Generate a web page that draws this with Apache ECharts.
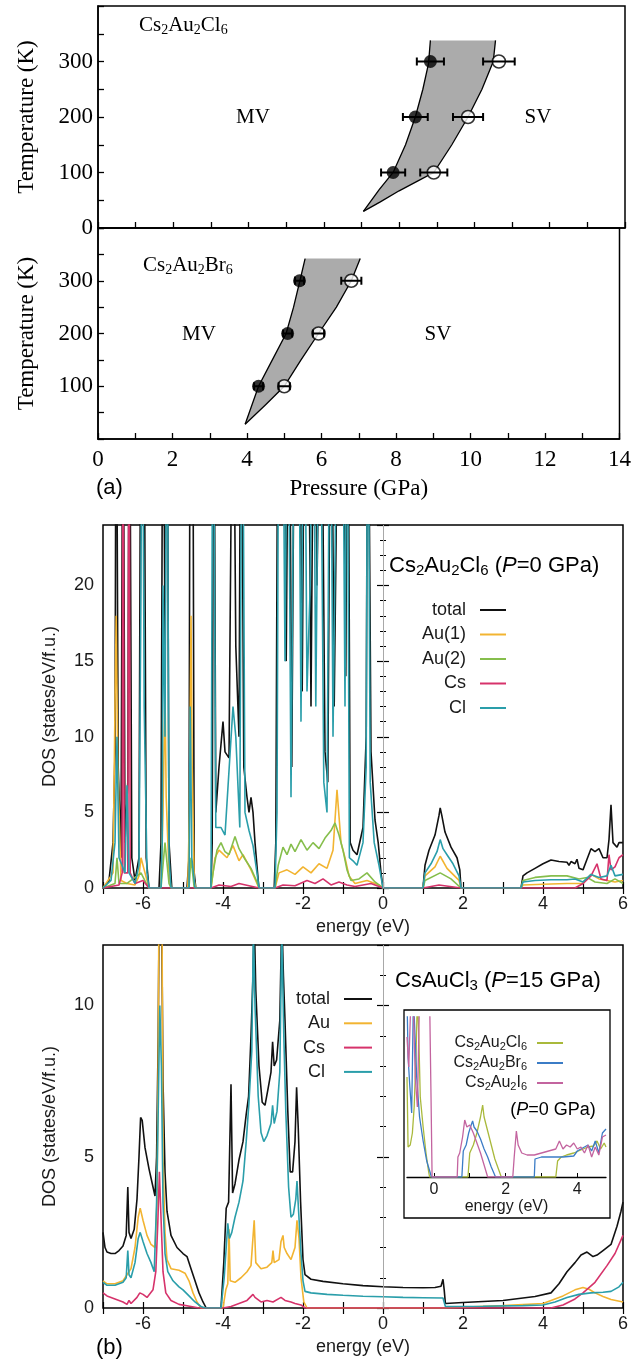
<!DOCTYPE html>
<html>
<head>
<meta charset="utf-8">
<title>Cs2Au2X6 phase diagram and DOS</title>
<script src="https://cdn.jsdelivr.net/npm/echarts@6/dist/echarts.min.js"></script>
<style>
  html, body { margin: 0; padding: 0; background: #fff; }
  #main { width: 634px; height: 1363px; }
</style>
</head>
<body>
<div id="main"></div>
<script>
// ---- (a) phase diagram: [pressure GPa, temperature K, error GPa] ----
var clFilled = [[7.84, 100, 0.32], [8.43, 200, 0.33], [8.83, 300, 0.36]];
var clOpen = [[8.92, 100, 0.36], [9.83, 200, 0.40], [10.65, 300, 0.42]];
var clLeft = [[7.05, 30], [7.47, 69], [7.84, 100], [8.17, 150], [8.43, 200], [8.63, 250], [8.78, 296], [8.83, 338]];
var clRight = [[7.05, 30], [7.5, 47], [8.0, 67], [8.5, 85], [8.92, 100], [9.4, 150], [9.83, 200], [10.2, 250], [10.5, 300], [10.56, 338]];

var brFilled = [[4.31, 100, 0.12], [5.09, 200, 0.12], [5.41, 300, 0.12]];
var brOpen = [[5.0, 100, 0.15], [5.92, 200, 0.15], [6.8, 300, 0.27]];
var brLeft = [[3.95, 28], [4.31, 100], [4.68, 150], [5.05, 200], [5.25, 250], [5.42, 300], [5.56, 342]];
var brRight = [[3.95, 28], [4.5, 65], [5.0, 100], [5.45, 150], [5.92, 200], [6.4, 250], [6.8, 300], [7.04, 342]];

// ---- (a) lower: DOS of Cs2Au2Cl6 at P=0, [energy eV, states/eV/f.u.] ----
var cl6Total = [[-7,0],[-6.85,0.5],[-6.75,3],[-6.7,9],[-6.67,40],[-6.62,8],[-6.55,2],[-6.5,40],[-6.45,3],[-6.38,7],[-6.34,40],[-6.28,2],[-6.2,0.5],[-6.1,2],[-6.05,40],[-5.98,40],[-5.92,2],[-5.85,0],[-5.6,0],[-5.55,3],[-5.5,40],[-5.45,16],[-5.4,40],[-5.35,3],[-5.28,0],[-4.9,0],[-4.85,2],[-4.82,40],[-4.76,40],[-4.72,1],[-4.68,0],[-4.3,0],[-4.27,3],[-4.23,40],[-4.18,5],[-4.1,8],[-4.0,11],[-3.95,9],[-3.85,8.6],[-3.75,40],[-3.68,16],[-3.6,10],[-3.55,40],[-3.48,8],[-3.4,6],[-3.35,5],[-3.3,6],[-3.25,5],[-3.2,3],[-3.12,0.5],[-3.1,0],[-2.72,0],[-2.68,3],[-2.62,40],[-2.55,40],[-2.48,40],[-2.42,15],[-2.35,40],[-2.28,8],[-2.2,40],[-2.1,40],[-2.02,13],[-1.95,40],[-1.88,40],[-1.8,12],[-1.72,40],[-1.65,20],[-1.55,40],[-1.45,9],[-1.38,7],[-1.3,40],[-1.22,12],[-1.1,40],[-1.0,40],[-0.93,14],[-0.88,40],[-0.82,3],[-0.75,2.5],[-0.65,2.2],[-0.5,4],[-0.42,10],[-0.38,40],[-0.3,9],[-0.2,4.5],[-0.12,3],[-0.05,1],[0,0],[1.0,0],[1.05,1.5],[1.15,2.5],[1.3,3.5],[1.4,4.8],[1.43,5.3],[1.47,4.8],[1.55,3.7],[1.7,2.7],[1.85,2.0],[1.92,1.2],[1.95,0],[3.45,0],[3.5,0.8],[3.6,1.0],[3.8,1.3],[4.0,1.6],[4.2,1.85],[4.4,1.75],[4.6,1.7],[4.65,1.5],[4.7,1.75],[4.8,1.6],[4.85,1.9],[4.9,1.3],[5.0,1.2],[5.1,1.9],[5.2,2.6],[5.3,2.4],[5.4,2.6],[5.5,2.0],[5.6,2.0],[5.65,3.2],[5.7,5.5],[5.75,3.0],[5.85,2.7],[5.9,3.0],[6,3.0]];
var cl6Au1 = [[-7,0],[-6.75,1],[-6.7,12],[-6.67,18],[-6.63,8],[-6.55,0.5],[-6.4,0.3],[-6.2,0.2],[-6.1,0.8],[-6.05,2],[-5.95,1],[-5.85,0],[-5.55,0],[-5.5,5],[-5.45,13],[-5.42,6],[-5.35,1],[-5.3,0],[-4.88,0],[-4.84,5],[-4.8,18],[-4.77,8],[-4.72,0.5],[-4.68,0],[-4.3,0],[-4.25,1],[-4.2,2],[-4.1,2.5],[-3.9,2],[-3.75,2.8],[-3.6,1.8],[-3.5,2.2],[-3.3,1.2],[-3.15,0.3],[-3.1,0],[-2.7,0],[-2.6,1],[-2.4,1.2],[-2.2,0.9],[-2.0,1.4],[-1.8,1.0],[-1.6,1.6],[-1.4,1.3],[-1.25,2.5],[-1.15,6.5],[-1.05,3],[-0.95,2],[-0.85,0.8],[-0.7,0.3],[-0.4,0.5],[-0.1,0.2],[0,0],[1.0,0],[1.05,0.8],[1.3,1.4],[1.43,2.1],[1.6,1.3],[1.9,0.5],[1.95,0],[3.45,0],[3.5,0.2],[4.0,0.25],[4.6,0.3],[5.0,0.3],[5.2,0.9],[5.4,0.6],[5.6,0.5],[5.8,0.4],[6,0.5]];
var cl6Au2 = [[-7,0],[-6.7,0.3],[-6.65,2],[-6.6,0.3],[-6.4,0.3],[-6.05,1],[-5.9,0.2],[-5.85,0],[-5.55,0],[-5.45,3],[-5.35,0.3],[-5.3,0],[-4.85,0],[-4.8,2],[-4.72,0],[-4.3,0],[-4.25,1],[-4.15,2.5],[-4.05,3],[-3.95,2.4],[-3.85,2.2],[-3.7,3.4],[-3.6,2.6],[-3.45,1.9],[-3.3,1.3],[-3.15,0.4],[-3.1,0],[-2.7,0],[-2.62,1.5],[-2.5,2.7],[-2.4,2.2],[-2.3,2.9],[-2.2,2.4],[-2.05,3.2],[-1.9,2.5],[-1.75,3.0],[-1.6,2.6],[-1.45,3.3],[-1.3,3.8],[-1.2,4.3],[-1.1,3.5],[-1.0,2.5],[-0.9,1.2],[-0.8,0.5],[-0.6,0.6],[-0.4,1.0],[-0.2,0.4],[0,0],[1.0,0],[1.05,0.5],[1.43,1.0],[1.7,0.6],[1.95,0],[3.45,0],[3.5,0.5],[3.8,0.7],[4.2,0.8],[4.6,0.8],[4.9,0.6],[5.1,0.7],[5.3,0.4],[5.6,0.3],[5.8,0.6],[6,0.3]];
var cl6Cs = [[-7,0],[-6.6,0.2],[-6.52,1],[-6.5,40],[-6.47,1],[-6.38,1],[-6.35,40],[-6.32,1],[-6.2,0.3],[-6.0,0.5],[-5.85,0],[-4.3,0],[-4.1,0.2],[-3.8,0.1],[-3.6,0.3],[-3.1,0],[-2.7,0],[-2.5,0.2],[-2.2,0.15],[-1.9,0.5],[-1.7,0.3],[-1.5,0.6],[-1.3,0.2],[-1.1,0.4],[-0.9,0.2],[-0.7,0.1],[-0.3,0.3],[0,0],[1.0,0],[1.4,0.2],[1.95,0],[3.45,0],[4.8,0],[5.0,0.3],[5.2,0.8],[5.35,1.6],[5.45,0.6],[5.6,0.5],[5.65,2.2],[5.7,1.2],[5.8,1.4],[5.9,2.0],[6,2.2]];
var cl6Cl = [[-7,0],[-6.8,0.5],[-6.7,3],[-6.65,10],[-6.6,2],[-6.45,1],[-6.4,6.8],[-6.35,1],[-6.2,0.3],[-6.1,1.5],[-6.05,20],[-6.02,40],[-5.97,12],[-5.9,1],[-5.85,0],[-5.55,0],[-5.52,3],[-5.5,20],[-5.45,10],[-5.4,40],[-5.35,2],[-5.3,0],[-4.85,0],[-4.82,12],[-4.78,2],[-4.7,0],[-4.3,0],[-4.25,40],[-4.18,4],[-4.05,4],[-3.95,3.5],[-3.75,12],[-3.68,10],[-3.58,4],[-3.52,40],[-3.45,5],[-3.35,3.8],[-3.25,2.8],[-3.15,1],[-3.1,0],[-2.7,0],[-2.65,5],[-2.6,40],[-2.52,40],[-2.45,15],[-2.38,40],[-2.3,6],[-2.2,40],[-2.12,40],[-2.05,11],[-1.97,40],[-1.9,13],[-1.82,20],[-1.75,40],[-1.68,12],[-1.58,40],[-1.48,7],[-1.4,5],[-1.32,40],[-1.25,10],[-1.12,40],[-1.02,40],[-0.95,12],[-0.9,40],[-0.84,2],[-0.75,1.8],[-0.65,1.5],[-0.5,3],[-0.42,8],[-0.38,40],[-0.32,7],[-0.22,3],[-0.1,1.5],[0,0],[1.0,0],[1.05,1],[1.2,1.6],[1.35,2.4],[1.43,3.2],[1.5,2.6],[1.6,2.2],[1.75,1.6],[1.9,0.8],[1.95,0],[3.45,0],[3.5,0.4],[3.8,0.5],[4.2,0.55],[4.6,0.55],[4.8,0.6],[5.0,0.4],[5.2,0.9],[5.4,0.7],[5.6,0.8],[5.7,1.5],[5.8,0.8],[6,0.9]];

// ---- (b) DOS of CsAuCl3 at P=15 GPa ----
var p15Total = [[-7,2.5],[-6.95,2.0],[-6.9,1.85],[-6.8,1.8],[-6.7,1.8],[-6.6,1.9],[-6.5,2.05],[-6.42,2.4],[-6.38,4.0],[-6.35,2.5],[-6.3,2.3],[-6.22,2.6],[-6.15,3.6],[-6.1,5.0],[-6.06,6.3],[-6.02,6.2],[-5.95,5.3],[-5.85,4.6],[-5.75,4.0],[-5.7,3.7],[-5.66,5.0],[-5.62,9.0],[-5.58,16],[-5.54,14],[-5.5,7.5],[-5.45,4.5],[-5.4,3.2],[-5.3,2.4],[-5.15,2.0],[-5.0,1.8],[-4.9,1.7],[-4.8,1.3],[-4.7,0.9],[-4.6,0.5],[-4.5,0.2],[-4.42,0],[-4.05,0],[-3.98,1.5],[-3.92,3.3],[-3.86,3.5],[-3.8,7.4],[-3.76,3.8],[-3.7,4.1],[-3.6,4.9],[-3.5,5.5],[-3.42,6.4],[-3.36,7.0],[-3.3,9.0],[-3.25,11],[-3.22,13],[-3.18,10.5],[-3.1,8.0],[-3.02,6.8],[-2.95,6.7],[-2.88,7.2],[-2.8,7.8],[-2.76,8.8],[-2.72,8.0],[-2.66,8.2],[-2.58,9.5],[-2.53,13],[-2.49,11],[-2.45,9.5],[-2.38,6.5],[-2.32,4.5],[-2.26,4.5],[-2.2,5.5],[-2.16,7.3],[-2.12,6.0],[-2.06,3.5],[-2.0,1.6],[-1.95,1.1],[-1.8,0.95],[-1.5,0.88],[-1.0,0.8],[-0.5,0.74],[0,0.7],[0.5,0.68],[1.0,0.67],[1.3,0.68],[1.45,0.72],[1.5,0.95],[1.53,0.6],[1.56,0.15],[2.0,0.18],[3.0,0.25],[3.8,0.38],[4.2,0.5],[4.4,0.8],[4.6,1.2],[4.8,1.5],[4.95,1.75],[5.1,1.85],[5.25,1.7],[5.35,1.75],[5.5,1.9],[5.7,2.1],[5.85,2.7],[5.95,3.2],[6,3.5]];
var p15Au = [[-7,0.9],[-6.9,0.8],[-6.7,0.8],[-6.5,0.9],[-6.4,1.1],[-6.3,1.3],[-6.2,2.0],[-6.12,3.0],[-6.07,3.3],[-6.0,2.9],[-5.9,2.4],[-5.8,2.1],[-5.7,2.0],[-5.65,3.5],[-5.62,8],[-5.58,20],[-5.54,18],[-5.5,5],[-5.45,2.5],[-5.4,1.6],[-5.3,1.3],[-5.1,1.25],[-4.95,1.15],[-4.85,0.9],[-4.75,0.5],[-4.65,0.2],[-4.55,0],[-4.0,0],[-3.93,0.6],[-3.88,0.8],[-3.85,2.6],[-3.82,0.9],[-3.7,0.85],[-3.55,1.0],[-3.4,1.2],[-3.3,1.4],[-3.22,2.9],[-3.18,1.5],[-3.05,1.3],[-2.9,1.35],[-2.78,1.5],[-2.75,1.9],[-2.72,1.5],[-2.6,1.6],[-2.55,2.2],[-2.5,2.4],[-2.47,2.0],[-2.4,1.8],[-2.3,1.6],[-2.2,2.0],[-2.15,2.9],[-2.1,2.3],[-2.05,1.0],[-1.98,0.2],[-1.9,0],[1.5,0],[1.55,0.05],[3.0,0.08],[4.0,0.15],[4.5,0.4],[4.8,0.6],[5.0,0.68],[5.15,0.62],[5.3,0.5],[5.5,0.38],[5.7,0.28],[6,0.2]];
var p15Cs = [[-7,0.5],[-6.9,0.4],[-6.7,0.3],[-6.5,0.2],[-6.4,0.12],[-6.35,0.25],[-6.3,0.15],[-6.15,0.35],[-6.08,0.5],[-6.0,0.45],[-5.9,0.35],[-5.75,0.6],[-5.68,1.2],[-5.63,2.8],[-5.59,4.5],[-5.55,3.0],[-5.5,1.2],[-5.43,0.5],[-5.3,0.25],[-5.1,0.12],[-4.8,0.05],[-4.6,0],[-4.0,0],[-3.8,0.05],[-3.6,0.15],[-3.4,0.25],[-3.25,0.45],[-3.2,0.35],[-3.05,0.2],[-2.9,0.25],[-2.75,0.2],[-2.55,0.35],[-2.45,0.25],[-2.3,0.2],[-2.2,0.15],[-2.05,0.1],[-1.95,0],[4.2,0],[4.5,0.1],[4.8,0.3],[5.0,0.5],[5.3,0.85],[5.6,1.4],[5.8,1.8],[6,2.4]];
var p15Cl = [[-7,0.85],[-6.9,0.75],[-6.7,0.75],[-6.5,0.85],[-6.42,1.0],[-6.38,1.9],[-6.35,1.1],[-6.3,1.0],[-6.2,1.5],[-6.12,2.3],[-6.07,2.5],[-6.0,2.2],[-5.9,1.8],[-5.8,1.5],[-5.72,1.2],[-5.66,3.5],[-5.62,6.5],[-5.58,10.0],[-5.54,8.0],[-5.5,3.5],[-5.45,1.8],[-5.38,1.2],[-5.25,0.9],[-5.1,0.7],[-5.0,0.6],[-4.85,0.4],[-4.7,0.2],[-4.55,0.05],[-4.45,0],[-4.05,0],[-3.97,1.0],[-3.92,2.0],[-3.88,2.8],[-3.84,2.3],[-3.78,2.5],[-3.7,3.0],[-3.6,3.5],[-3.5,4.2],[-3.42,5.5],[-3.35,6.8],[-3.28,8.5],[-3.24,12.5],[-3.2,10],[-3.12,7.0],[-3.05,5.8],[-2.98,5.5],[-2.9,5.7],[-2.8,6.1],[-2.76,6.7],[-2.72,6.1],[-2.65,6.5],[-2.58,7.8],[-2.53,12.5],[-2.48,9],[-2.43,6.5],[-2.36,4.0],[-2.3,3.0],[-2.24,3.1],[-2.18,3.6],[-2.15,4.2],[-2.11,3.2],[-2.05,1.8],[-2.0,0.9],[-1.95,0.55],[-1.8,0.5],[-1.4,0.45],[-1.0,0.42],[-0.5,0.39],[0,0.37],[0.5,0.35],[1.0,0.34],[1.5,0.33],[1.56,0.05],[2.5,0.06],[3.5,0.08],[4.0,0.1],[4.3,0.2],[4.6,0.35],[4.9,0.45],[5.2,0.5],[5.5,0.52],[5.7,0.55],[5.9,0.7],[6,0.85]];

// ---- (b) inset: P=0 DOS near the gap ----
var insCl6 = [[-0.75,5.0],[-0.72,1.5],[-0.66,1.6],[-0.6,2.2],[-0.55,3.5],[-0.5,6.0],[-0.46,9],[-0.42,7],[-0.38,4],[-0.3,2.5],[-0.22,1.2],[-0.15,0.3],[-0.12,0],[0.95,0],[1.0,1.2],[1.1,1.6],[1.2,2.2],[1.3,3.0],[1.36,3.6],[1.4,3.0],[1.5,2.3],[1.6,1.6],[1.7,0.9],[1.8,0.4],[1.88,0],[3.4,0],[3.45,0.8],[3.55,1.0],[3.7,1.1],[3.9,1.2],[4.1,1.35],[4.3,1.5],[4.45,1.55],[4.55,1.8],[4.65,1.4],[4.75,1.7],[4.8,1.5]];
var insBr6 = [[-0.75,9],[-0.72,6],[-0.67,4.5],[-0.62,3.2],[-0.57,9],[-0.53,9],[-0.48,5],[-0.4,3],[-0.3,1.8],[-0.2,0.8],[-0.1,0.2],[-0.07,0],[0.78,0],[0.82,1.3],[0.9,1.6],[0.97,2.2],[1.04,2.6],[1.08,2.8],[1.12,2.5],[1.2,2.3],[1.3,1.9],[1.4,1.4],[1.5,1.0],[1.6,0.5],[1.72,0],[2.8,0],[2.82,0.9],[3.0,1.0],[3.3,1.0],[3.6,1.0],[3.9,1.05],[4.0,1.3],[4.2,1.5],[4.3,1.6],[4.4,1.3],[4.5,1.8],[4.6,1.2],[4.7,2.2],[4.8,2.4]];
var insI6 = [[-0.75,7],[-0.7,5.5],[-0.64,9],[-0.58,9],[-0.52,5],[-0.46,3.5],[-0.4,9],[-0.3,9],[-0.2,9],[-0.12,9],[-0.08,4],[-0.05,0],[0.65,0],[0.67,1.0],[0.72,1.2],[0.8,2.0],[0.86,2.85],[0.92,2.5],[1.0,2.6],[1.1,2.2],[1.2,1.7],[1.3,1.2],[1.4,0.6],[1.5,0],[2.2,0],[2.24,1.0],[2.3,2.3],[2.35,1.6],[2.45,1.2],[2.6,1.1],[2.8,1.1],[3.0,1.2],[3.2,1.3],[3.4,1.4],[3.5,1.8],[3.6,1.4],[3.7,1.6],[3.8,1.5],[3.9,1.7],[4.0,1.4],[4.1,1.5],[4.2,1.2],[4.3,1.6],[4.4,1.0],[4.5,1.5],[4.6,1.1],[4.7,2.0],[4.8,2.1]];

var SERIF = 'Liberation Serif';
var SANS = 'Liberation Sans';
var C = { total: '#111111', au1: '#f2b431', au2: '#86be4c', cs: '#d6336b', cl: '#2a9eaa',
          iCl: '#a9b93b', iBr: '#3b7cc6', iI: '#c3649f' };

var chart = echarts.init(document.getElementById('main'), null, { renderer: 'canvas' });

// filled band between two boundaries, outlined on both sides
function regionSeries(idx, left, right) {
    return {
        type: 'custom', xAxisIndex: idx, yAxisIndex: idx, silent: true, z: 1,
        data: [[0, 0]],
        renderItem: function (params, api) {
            var l = left.map(function (d) { return api.coord(d); });
            var r = right.map(function (d) { return api.coord(d); });
            return { type: 'group', children: [
                { type: 'polygon', shape: { points: l.concat(r.slice().reverse()) }, style: { fill: '#ababab' } },
                { type: 'polyline', shape: { points: l }, style: { stroke: '#000', lineWidth: 1.3, fill: null } },
                { type: 'polyline', shape: { points: r }, style: { stroke: '#000', lineWidth: 1.3, fill: null } }
            ]};
        }
    };
}

// horizontal error bars with caps
function errorSeries(idx, pts) {
    return {
        type: 'custom', xAxisIndex: idx, yAxisIndex: idx, silent: true, z: 5,
        data: pts, encode: { x: 0, y: 1 },
        renderItem: function (params, api) {
            var a = api.coord([api.value(0) - api.value(2), api.value(1)]);
            var b = api.coord([api.value(0) + api.value(2), api.value(1)]);
            var s = { stroke: '#000', lineWidth: 2 };
            return { type: 'group', children: [
                { type: 'line', shape: { x1: a[0], y1: a[1], x2: b[0], y2: b[1] }, style: s },
                { type: 'line', shape: { x1: a[0], y1: a[1] - 4, x2: a[0], y2: a[1] + 4 }, style: s },
                { type: 'line', shape: { x1: b[0], y1: b[1] - 4, x2: b[0], y2: b[1] + 4 }, style: s }
            ]};
        }
    };
}

function pointSeries(idx, pts, filled) {
    return {
        type: 'scatter', xAxisIndex: idx, yAxisIndex: idx, silent: true, z: 4,
        data: pts.map(function (d) { return [d[0], d[1]]; }),
        symbolSize: 13,
        itemStyle: filled ? { color: '#000' } : { color: '#fff', borderColor: '#000', borderWidth: 1.6 }
    };
}

function dosLine(name, data, color, xi, yi, width) {
    return {
        name: name, type: 'line', data: data, xAxisIndex: xi, yAxisIndex: yi,
        symbol: 'none', clip: true, silent: true,
        lineStyle: { color: color, width: width || 1.6 },
        itemStyle: { color: color }
    };
}

function zeroMark() {
    return { silent: true, symbol: ['none', 'none'], label: { show: false },
             lineStyle: { color: '#a8a8a8', width: 1, type: 'solid' }, data: [{ xAxis: 0 }] };
}

// ---- axes ----
function phaseX(grid, labels) {
    return {
        type: 'value', gridIndex: grid, min: 0, max: 14, interval: 1,
        axisLine: { show: true, lineStyle: { color: '#000', width: 1.5 } },
        axisTick: { inside: true, length: 6, lineStyle: { color: '#000', width: 1.3 } },
        axisLabel: { show: labels, margin: 9, fontFamily: SERIF, fontSize: 23, color: '#000',
                     formatter: function (v) { return v % 2 === 0 ? String(v) : ''; } },
        splitLine: { show: false },
        name: labels ? 'Pressure (GPa)' : '', nameLocation: 'middle', nameGap: 38,
        nameTextStyle: { fontFamily: SERIF, fontSize: 23, color: '#000' }
    };
}
function phaseY(grid, showZero) {
    return {
        type: 'value', gridIndex: grid, min: 0, max: 400, interval: 50,
        axisLine: { show: true, lineStyle: { color: '#000', width: 1.5 } },
        axisTick: { inside: true, length: 6, lineStyle: { color: '#000', width: 1.3 } },
        axisLabel: { margin: 5, fontFamily: SERIF, fontSize: 23, color: '#000',
                     formatter: function (v) {
                         if (v === 0) return showZero ? '0' : '';
                         return (v % 100 === 0 && v < 400) ? String(v) : '';
                     } },
        splitLine: { show: false },
        name: 'Temperature (K)', nameLocation: 'middle', nameGap: 60,
        nameTextStyle: { fontFamily: SERIF, fontSize: 23, color: '#000' }
    };
}
function dosX(grid, mirror) {
    return {
        type: 'value', gridIndex: grid, min: -7, max: 6, interval: 1,
        position: mirror ? 'top' : 'bottom',
        axisLine: { show: false },
        axisTick: { inside: true, length: 6, lineStyle: { color: '#000', width: 1.2 } },
        axisLabel: { show: !mirror, margin: 7, fontFamily: SANS, fontSize: 18, color: '#1a1a1a',
                     formatter: function (v) { return v % 2 === 0 ? String(v) : ''; } },
        splitLine: { show: false },
        name: mirror ? '' : 'energy (eV)', nameLocation: 'middle', nameGap: 30,
        nameTextStyle: { fontFamily: SANS, fontSize: 18, color: '#1a1a1a' }
    };
}
function dosY(grid, max, mirror) {
    return {
        type: 'value', gridIndex: grid, min: 0, max: max, interval: 5,
        position: mirror ? 'right' : 'left',
        axisLine: { show: false },
        axisTick: { inside: true, length: 6, lineStyle: { color: '#000', width: 1.2 } },
        minorTick: { show: true, splitNumber: 5, length: 3, lineStyle: { color: '#000', width: 1 } },
        axisLabel: { show: !mirror, margin: 9, fontFamily: SANS, fontSize: 18, color: '#1a1a1a',
                     formatter: function (v) { return v % 5 === 0 ? String(v) : ''; } },
        splitLine: { show: false },
        name: mirror ? '' : 'DOS (states/eV/f.u.)', nameLocation: 'middle', nameGap: 44,
        nameTextStyle: { fontFamily: SANS, fontSize: 18, color: '#1a1a1a' }
    };
}

// ---- free text ----
var richSerif = {
    n: { fontFamily: SERIF, fontSize: 21, color: '#000', lineHeight: 24 },
    s: { fontFamily: SERIF, fontSize: 14, color: '#000', lineHeight: 15, verticalAlign: 'bottom' }
};
var richSans = {
    n: { fontFamily: SANS, fontSize: 22, color: '#1a1a1a', lineHeight: 25 },
    i: { fontFamily: SANS, fontSize: 22, fontStyle: 'italic', color: '#1a1a1a', lineHeight: 25 },
    s: { fontFamily: SANS, fontSize: 15, color: '#1a1a1a', lineHeight: 16, verticalAlign: 'bottom' }
};
function txt(x, y, text, rich, align) {
    return { type: 'text', x: x, y: y, silent: true,
             style: { text: text, rich: rich, align: align || 'left', verticalAlign: 'middle' } };
}

var option = {
    animation: false,
    backgroundColor: '#ffffff',
    grid: [
        { left: 98, right: 9, top: 6, height: 222, show: true, borderColor: '#000', borderWidth: 1.5 },
        { left: 98, right: 9, top: 228, height: 211, show: true, borderColor: '#000', borderWidth: 1.5 },
        { left: 103, right: 11, top: 525, height: 363, show: true, borderColor: '#000', borderWidth: 1.5 },
        { left: 103, right: 11, top: 945, height: 363, show: true, borderColor: '#000', borderWidth: 1.5 },
        { left: 407, right: 28, top: 1017, height: 160, show: false }
    ],
    xAxis: [
        phaseX(0, false), phaseX(1, true),
        dosX(2, false), dosX(2, true),
        dosX(3, false), dosX(3, true),
        {
            type: 'value', gridIndex: 4, min: -0.75, max: 4.8,
            axisLine: { show: true, lineStyle: { color: '#000', width: 1.3 } },
            axisTick: { inside: true, length: 4, customValues: [0, 1, 2, 3, 4], lineStyle: { color: '#000' } },
            axisLabel: { customValues: [0, 2, 4], margin: 5, fontFamily: SANS, fontSize: 16, color: '#1a1a1a' },
            splitLine: { show: false },
            name: 'energy (eV)', nameLocation: 'middle', nameGap: 20,
            nameTextStyle: { fontFamily: SANS, fontSize: 16, color: '#1a1a1a' }
        }
    ],
    yAxis: [
        phaseY(0, true), phaseY(1, false),
        dosY(2, 24, false), dosY(2, 24, true),
        dosY(3, 12, false), dosY(3, 12, true),
        { type: 'value', gridIndex: 4, min: 0, max: 8, show: false }
    ],
    legend: [
        {
            data: ['total', 'Au(1)', 'Au(2)', 'Cs', 'Cl'], selectedMode: false,
            orient: 'vertical', align: 'right', right: 128, top: 600, padding: 0,
            icon: 'rect', itemWidth: 26, itemHeight: 2, itemGap: 4.5,
            textStyle: { fontFamily: SANS, fontSize: 18, color: '#1a1a1a', lineHeight: 20, padding: [0, 9, 0, 0] }
        },
        {
            data: ['total', 'Au', 'Cs ', 'Cl '], selectedMode: false,
            orient: 'vertical', align: 'right', right: 262, top: 989, padding: 0,
            icon: 'rect', itemWidth: 28, itemHeight: 2, itemGap: 4.3,
            textStyle: { fontFamily: SANS, fontSize: 18, color: '#1a1a1a', lineHeight: 20, padding: [0, 9, 0, 0] }
        },
        {
            data: ['Cs2Au2Cl6', 'Cs2Au2Br6', 'Cs2Au2I6'], selectedMode: false,
            orient: 'vertical', align: 'right', right: 71, top: 1034, padding: 0,
            icon: 'rect', itemWidth: 26, itemHeight: 2, itemGap: 2,
            formatter: function (name) {
                return name.replace(/([A-Za-z]+)(\d)/g, '$1{s|$2}');
            },
            textStyle: { fontFamily: SANS, fontSize: 16, color: '#1a1a1a', lineHeight: 18, padding: [0, 5, 0, 0],
                         rich: { s: { fontFamily: SANS, fontSize: 11, color: '#1a1a1a', lineHeight: 10, verticalAlign: 'bottom' } } }
        }
    ],
    graphic: [
        txt(139, 25, '{n|Cs}{s|2}{n|Au}{s|2}{n|Cl}{s|6}', richSerif),
        txt(253, 117, '{n|MV}', richSerif, 'center'),
        txt(538, 117, '{n|SV}', richSerif, 'center'),
        txt(143, 265, '{n|Cs}{s|2}{n|Au}{s|2}{n|Br}{s|6}', richSerif),
        txt(199, 334, '{n|MV}', richSerif, 'center'),
        txt(438, 334, '{n|SV}', richSerif, 'center'),
        txt(96, 488, '{n|(a)}', richSans),
        txt(96, 1348, '{n|(b)}', richSans),
        txt(389, 566, '{n|Cs}{s|2}{n|Au}{s|2}{n|Cl}{s|6}{n| (}{i|P}{n|=0 GPa)}', richSans),
        txt(395, 981, '{n|CsAuCl}{s|3}{n| (}{i|P}{n|=15 GPa)}', richSans),
        txt(553, 1110, '{n|(}{i|P}{n|=0 GPa)}', {
            n: { fontFamily: SANS, fontSize: 18, color: '#1a1a1a' },
            i: { fontFamily: SANS, fontSize: 18, fontStyle: 'italic', color: '#1a1a1a' }
        }, 'center'),
        { type: 'rect', silent: true, shape: { x: 404, y: 1010, width: 206, height: 208 },
          style: { fill: 'none', stroke: '#000', lineWidth: 1.3 } }
    ],
    series: [
        regionSeries(0, clLeft, clRight),
        pointSeries(0, clFilled, true), pointSeries(0, clOpen, false),
        errorSeries(0, clFilled), errorSeries(0, clOpen),
        regionSeries(1, brLeft, brRight),
        pointSeries(1, brFilled, true), pointSeries(1, brOpen, false),
        errorSeries(1, brFilled), errorSeries(1, brOpen),

        Object.assign(dosLine('total', cl6Total, C.total, 2, 2), { markLine: zeroMark() }),
        dosLine('Au(1)', cl6Au1, C.au1, 2, 2),
        dosLine('Au(2)', cl6Au2, C.au2, 2, 2),
        dosLine('Cs', cl6Cs, C.cs, 2, 2),
        dosLine('Cl', cl6Cl, C.cl, 2, 2),

        Object.assign(dosLine('total', p15Total, C.total, 4, 4), { markLine: zeroMark() }),
        dosLine('Au', p15Au, C.au1, 4, 4),
        dosLine('Cs ', p15Cs, C.cs, 4, 4),
        dosLine('Cl ', p15Cl, C.cl, 4, 4),

        dosLine('Cs2Au2Cl6', insCl6, C.iCl, 6, 6, 1.3),
        dosLine('Cs2Au2Br6', insBr6, C.iBr, 6, 6, 1.3),
        dosLine('Cs2Au2I6', insI6, C.iI, 6, 6, 1.3)
    ]
};

chart.setOption(option);
</script>
</body>
</html>
